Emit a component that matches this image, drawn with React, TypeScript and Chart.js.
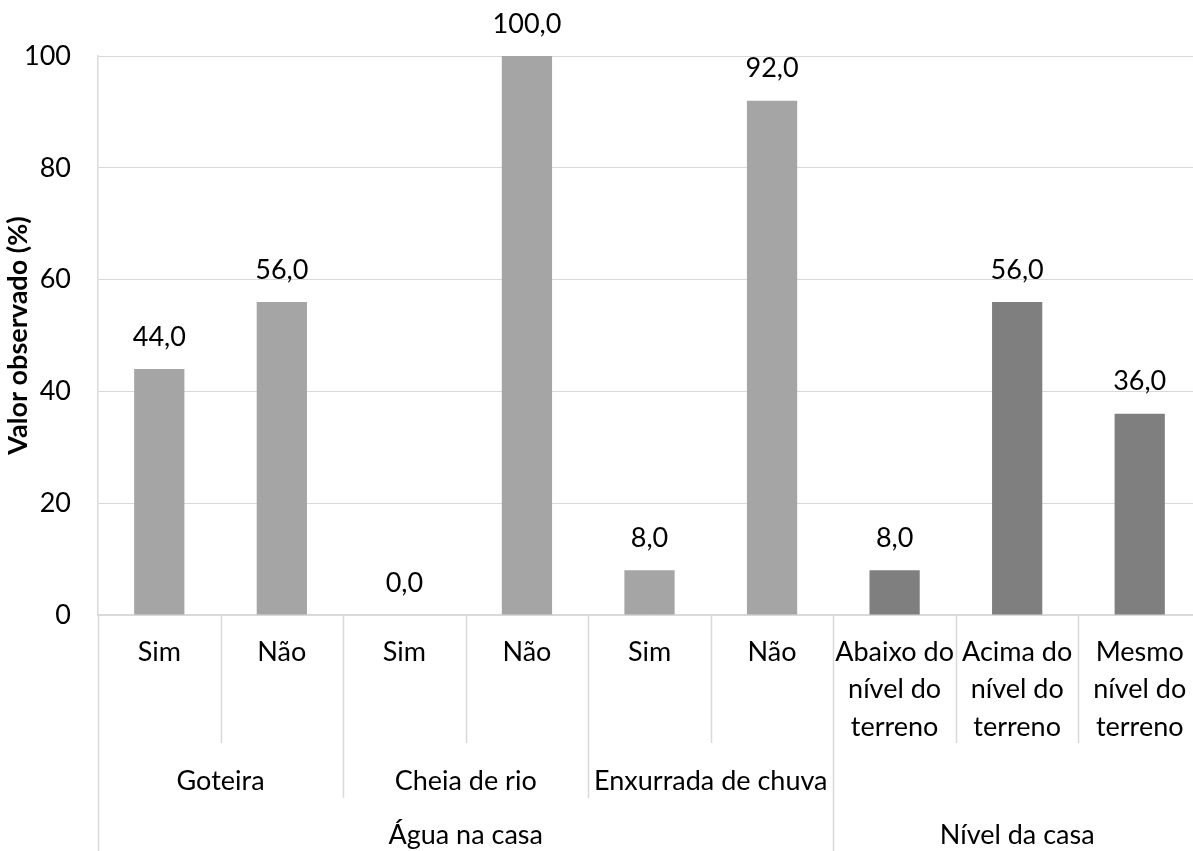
import React, { useEffect, useRef } from "react";
import { Chart, registerables } from "chart.js";

Chart.register(...registerables);

const categories: (string | string[])[] = [
  "Sim",
  "Não",
  "Sim",
  "Não",
  "Sim",
  "Não",
  ["Abaixo do", "nível do", "terreno"],
  ["Acima do", "nível do", "terreno"],
  ["Mesmo", "nível do", "terreno"],
];
const values = [44, 56, 0, 100, 8, 92, 8, 56, 36];
const barColors = [
  "#A5A5A5",
  "#A5A5A5",
  "#A5A5A5",
  "#A5A5A5",
  "#A5A5A5",
  "#A5A5A5",
  "#7F7F7F",
  "#7F7F7F",
  "#7F7F7F",
];
// level 2 groups: [label, firstIndex, lastIndex]
const groupLabels = ["Goteira", "Cheia de rio", "Enxurrada de chuva"];
const groupStarts = [0, 2, 4];
const groupEnds = [1, 3, 5];
// level 3 groups
const superLabels = ["Água na casa", "Nível da casa"];
const superStarts = [0, 6];
const superEnds = [5, 8];
const yTicks = [0, 20, 40, 60, 80, 100];

const FONT = "Lato, 'Open Sans', sans-serif";
const GRID = "#D9D9D9";
const TXT = 27;

const multiLevelPlugin = {
  id: "multiLevel",
  afterDraw(chart: any) {
    const ctx = chart.ctx;
    const xs = chart.scales.x;
    const top = xs.top;
    const n = categories.length;
    const px = (i: number) => xs.getPixelForValue(i);
    const boundary = (i: number) => {
      if (i <= 0) return xs.left;
      if (i >= n) return xs.right;
      return (px(i - 1) + px(i)) / 2;
    };
    const lvl1Bottom = top + 128;
    const lvl2Bottom = top + 183;
    const lvl3Bottom = chart.height;
    ctx.save();
    ctx.strokeStyle = GRID;
    ctx.lineWidth = 1.5;
    for (let i = 0; i < n; i++) {
      let bottom = lvl1Bottom;
      const isSuper = i === 0 || superStarts.includes(i);
      const isGroup = groupStarts.includes(i) || groupEnds.map((e) => e + 1).includes(i);
      if (isSuper) bottom = lvl3Bottom;
      else if (isGroup) bottom = lvl2Bottom;
      const x = Math.round(boundary(i)) + 0.5;
      ctx.beginPath();
      ctx.moveTo(x, top);
      ctx.lineTo(x, bottom);
      ctx.stroke();
    }
    ctx.fillStyle = "#000";
    ctx.font = `${TXT}px ${FONT}`;
    ctx.textAlign = "center";
    ctx.textBaseline = "middle";
    categories.forEach((c, i) => {
      const lines = Array.isArray(c) ? c : [c];
      lines.forEach((l, j) => ctx.fillText(l, px(i), top + 37 + j * 37.5));
    });
    groupLabels.forEach((g, k) => {
      const cx = (boundary(groupStarts[k]) + boundary(groupEnds[k] + 1)) / 2;
      ctx.fillText(g, cx, top + 166);
    });
    superLabels.forEach((g, k) => {
      const cx = (boundary(superStarts[k]) + boundary(superEnds[k] + 1)) / 2;
      ctx.fillText(g, cx, top + 220);
    });
    // data labels
    const meta = chart.getDatasetMeta(0);
    meta.data.forEach((bar: any, i: number) => {
      ctx.fillText(values[i].toFixed(1).replace(".", ","), bar.x, bar.y - 32);
    });
    ctx.restore();
  },
};

export default function App() {
  const ref = useRef<HTMLCanvasElement>(null);
  useEffect(() => {
    if (!ref.current) return;
    const chart = new Chart(ref.current, {
      type: "bar",
      data: {
        labels: categories.map((c) => (Array.isArray(c) ? c.join(" ") : c)),
        datasets: [
          {
            data: values,
            backgroundColor: barColors,
            borderWidth: 0,
            categoryPercentage: 1,
            barPercentage: 0.41,
          },
        ],
      },
      options: {
        responsive: false,
        animation: false,
        devicePixelRatio: 1,
        layout: { padding: { top: 56, right: 4, left: 0, bottom: 0 } },
        plugins: {
          legend: { display: false },
          tooltip: { enabled: false },
        },
        scales: {
          x: {
            ticks: { display: false },
            grid: { display: false, drawTicks: false },
            border: { display: true, color: GRID, width: 1.5 },
            afterFit: (s: any) => {
              s.height = 236;
            },
          },
          y: {
            min: 0,
            max: 100,
            afterBuildTicks: (s: any) => {
              s.ticks = yTicks.map((v) => ({ value: v }));
            },
            ticks: {
              color: "#000",
              font: { family: FONT, size: TXT },
              padding: 27,
            },
            grid: { color: GRID, lineWidth: 1, drawTicks: false },
            border: { display: true, color: GRID, width: 1.5 },
            title: {
              display: true,
              text: "Valor observado (%)",
              color: "#000",
              font: { family: FONT, size: 27, weight: "bold" },
              padding: { top: 2, bottom: 0 },
            },
            afterFit: (s: any) => {
              s.width = 98;
            },
          },
        },
      },
      plugins: [multiLevelPlugin],
    });
    return () => chart.destroy();
  }, []);
  return (
    <div
      style={{
        position: "fixed",
        left: 0,
        top: 0,
        width: 1193,
        height: 851,
        overflow: "hidden",
        background: "#fff",
      }}
    >
      <canvas ref={ref} width={1205} height={851} style={{ display: "block" }} />
    </div>
  );
}
